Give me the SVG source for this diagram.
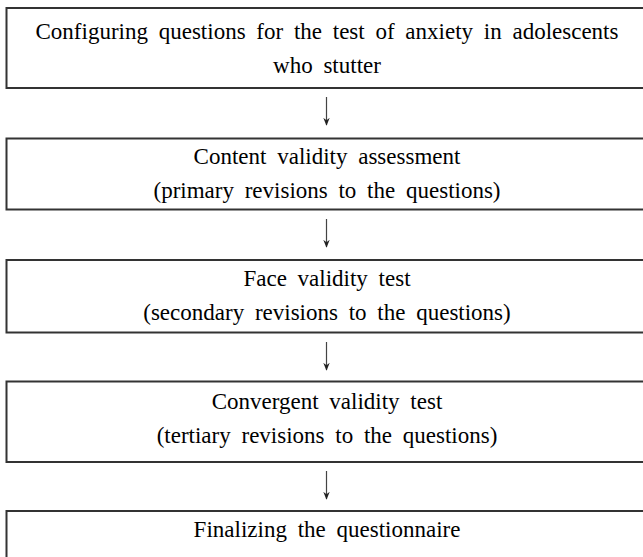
<svg xmlns="http://www.w3.org/2000/svg" width="643" height="557" viewBox="0 0 643 557">
<defs>
<style>
.box{fill:#fff;stroke:#333;stroke-width:2}
.t{font-family:"Liberation Serif","Times New Roman",serif;font-size:23px;fill:#000;text-anchor:middle;word-spacing:5px}
.c{stroke:#444;stroke-width:1.2;fill:none}
</style>
<marker id="ah" viewBox="0 0 10 10" refX="9" refY="5" markerWidth="8" markerHeight="8" markerUnits="userSpaceOnUse" orient="auto">
<path d="M0,1 L10,5 L0,9 L3,5 Z" fill="#222"/>
</marker>
</defs>
<rect width="643" height="557" fill="#fff"/>
<g id="n1">
<rect class="box" x="6.5" y="8" width="660" height="80"/>
<text class="t" x="327" y="39">Configuring questions for the test of anxiety in adolescents</text>
<text class="t" x="327" y="73">who stutter</text>
</g>
<g id="n2">
<rect class="box" x="6.5" y="138.5" width="660" height="71"/>
<text class="t" x="327" y="164">Content validity assessment</text>
<text class="t" x="327" y="198">(primary revisions to the questions)</text>
</g>
<g id="n3">
<rect class="box" x="6.5" y="260" width="660" height="72.5"/>
<text class="t" x="327" y="286">Face validity test</text>
<text class="t" x="327" y="320">(secondary revisions to the questions)</text>
</g>
<g id="n4">
<rect class="box" x="6.5" y="381.5" width="660" height="80.5"/>
<text class="t" x="327" y="409">Convergent validity test</text>
<text class="t" x="327" y="443">(tertiary revisions to the questions)</text>
</g>
<g id="n5">
<rect class="box" x="6.5" y="511" width="660" height="60"/>
<text class="t" x="327" y="537">Finalizing the questionnaire</text>
</g>
<g id="connectors">
<line class="c" x1="326.5" y1="97" x2="326.5" y2="125" marker-end="url(#ah)"/>
<line class="c" x1="326.5" y1="219" x2="326.5" y2="247" marker-end="url(#ah)"/>
<line class="c" x1="326.5" y1="342" x2="326.5" y2="370" marker-end="url(#ah)"/>
<line class="c" x1="326.5" y1="471" x2="326.5" y2="499" marker-end="url(#ah)"/>
</g>
</svg>
